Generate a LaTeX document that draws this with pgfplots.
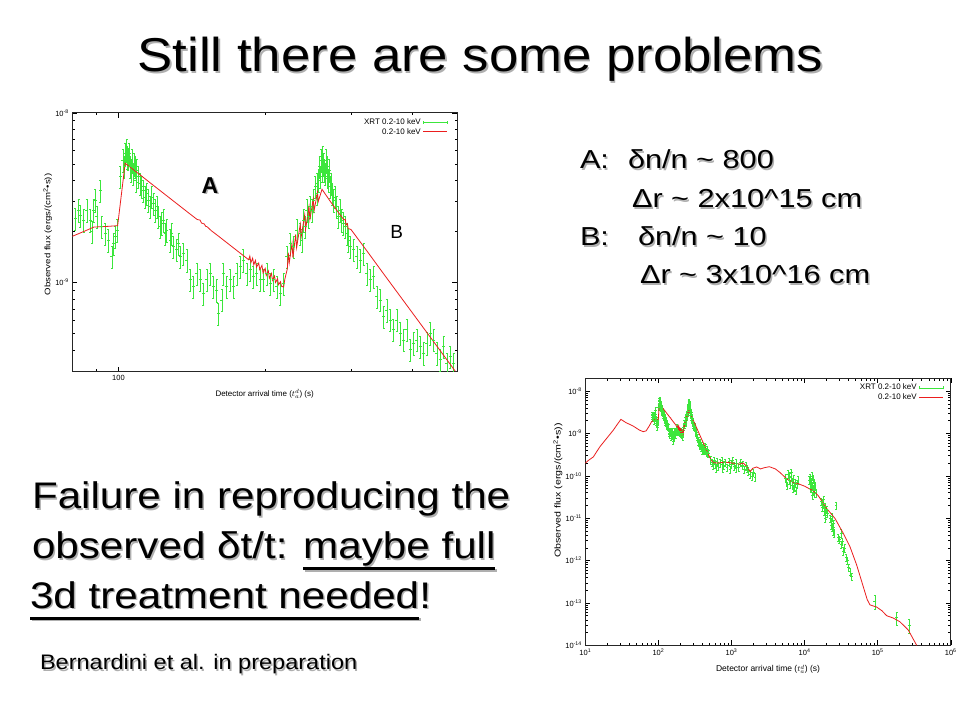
\documentclass[border=0pt]{standalone}
\usepackage{fontspec}
\setmainfont{Liberation Sans}
\newfontfamily\titlefont[FakeStretch=1.11]{Liberation Sans}
\newfontfamily\bodyfont[FakeStretch=1.14]{Liberation Sans}
\newfontfamily\rightfont[FakeStretch=1.18]{Liberation Sans}
\newfontfamily\notefont[FakeStretch=1.12]{Liberation Sans}
\usepackage{pgfplots}
\pgfplotsset{compat=1.18}
\usepackage{pgfplotstable}
\newcommand\ul[1]{\setbox0\hbox{#1}\dp0=0pt\vtop{\box0\kern 8.5pt\hrule height 3pt}}
\definecolor{xgreen}{RGB}{60,230,60}
\definecolor{xred}{RGB}{235,30,30}
\definecolor{shadowgray}{RGB}{175,175,175}

\newcommand\shtext[4]{%
  \node[inner sep=0pt, outer sep=0pt, anchor=#1, text=shadowgray, xshift=1.5pt, yshift=-1.5pt] at (#2) {#3#4};
  \node[inner sep=0pt, outer sep=0pt, anchor=#1] at (#2) {#3#4};}

\pgfplotstableread{
x y
10 2.0e-10
11 2.3e-10
12.9 2.8e-10
14 3.5e-10
15.9 4.9e-10
19.6 7.65e-10
24.2 1.2e-9
27.5 1.65e-9
30.7 2.15e-9
36 1.8e-9
45 1.5e-9
55 1.2e-9
62 1.1e-9
68 1.15e-9
75 1.5e-9
80.4 1.87e-9
}\modelA

\pgfplotstableread{
x y
80.4 1.87e-9
85 2.0e-9
89 2.12e-9
95 2.14e-9
99.6 2.16e-9
103.2 5.04e-9
110 4.37e-9
120 3.59e-9
130 3.0e-9
140 2.54e-9
145 2.35e-9
147 2.33e-9
148 2.24e-9
150 2.21e-9
151 2.14e-9
152 2.13e-9
155 2.02e-9
160 1.885e-9
170 1.645e-9
180 1.447e-9
185 1.361e-9
186 1.43e-9
187 1.31e-9
188.5 1.39e-9
189.5 1.27e-9
191 1.35e-9
192 1.23e-9
194 1.30e-9
195 1.19e-9
197 1.26e-9
198 1.14e-9
200 1.21e-9
201 1.10e-9
203 1.17e-9
204 1.06e-9
206 1.13e-9
207 1.03e-9
209 1.09e-9
210 1.00e-9
212 1.05e-9
213 0.97e-9
215 1.01e-9
216 0.95e-9
218.2 0.94e-9
219.5 1.05e-9
222 1.20e-9
223 1.50e-9
224 1.30e-9
227 1.70e-9
228 1.40e-9
231 1.92e-9
232 1.60e-9
236 2.20e-9
237 1.85e-9
241 2.50e-9
242 2.05e-9
246 2.80e-9
247 2.35e-9
251 3.10e-9
252 2.65e-9
256 3.40e-9
257 3.00e-9
261.6 3.54e-9
265 3.35e-9
272.1 3.0e-9
280 2.68e-9
290 2.34e-9
292 2.35e-9
293 2.18e-9
295 2.22e-9
296 2.08e-9
300 2.05e-9
323.6 1.53e-9
350 1.124e-9
400 6.68e-10
450 4.22e-10
491 3.0e-10
}\modelB

\pgfplotstableread{
x y
491 3.0e-10
530 2.35e-10
560 2.05e-10
650 2.0e-10
800 2.1e-10
953 2.04e-10
1100 1.95e-10
1306 1.9e-10
1452 2.0e-10
1650 1.6e-10
1800 1.25e-10
1950 1.5e-10
2213 1.62e-10
2500 1.45e-10
2800 1.55e-10
3300 1.64e-10
4000 1.45e-10
4600 1.2e-10
5500 9.0e-11
6000 8.0e-11
7000 7.0e-11
8000 6.6e-11
10000 5.7e-11
11250 5.1e-11
13000 4.5e-11
15400 3.4e-11
20000 1.71e-11
26050 9.9e-12
33870 4.4e-12
41800 2.13e-12
51600 7.9e-13
63600 2.42e-13
72000 1.2e-13
78500 9.0e-14
96900 8.0e-14
115000 6.5e-14
132800 5.0e-14
163500 4.4e-14
201600 3.6e-14
262400 2.3e-14
342000 1.0e-14
}\modelC

\pgfplotstableread{
x y
81.5 2.39e-9
82.8 2.68e-9
83.4 2.48e-9
84.8 2.34e-9
86.1 2.68e-9
87.5 2.34e-9
88.2 2.0e-9
88.9 2.68e-9
89.6 3.06e-9
90.3 2.45e-9
91.7 3.5e-9
92.4 2.14e-9
93.9 1.95e-9
95.3 1.78e-9
96.9 1.42e-9
97.7 1.7e-9
98.4 1.87e-9
99.5 2.04e-9
100.8 4.2e-9
102.1 5.27e-9
102.7 4.81e-9
103.2 5.76e-9
104.0 6.03e-9
104.3 5.5e-9
104.8 5.4e-9
105.3 5.76e-9
105.7 4.81e-9
106.1 4.6e-9
106.5 5.27e-9
107.3 4.4e-9
107.7 5.0e-9
108.2 4.81e-9
108.6 4.02e-9
109.0 4.6e-9
109.9 4.2e-9
110.8 3.85e-9
111.6 3.67e-9
112.5 3.5e-9
113.4 3.2e-9
114.3 3.35e-9
115.2 3.06e-9
116.1 2.8e-9
117.0 3.2e-9
118.0 2.93e-9
118.9 2.68e-9
119.9 2.8e-9
120.8 2.45e-9
121.8 2.14e-9
122.7 2.24e-9
123.7 2.34e-9
124.6 1.95e-9
125.6 2.04e-9
127.6 1.78e-9
128.6 1.95e-9
129.6 1.63e-9
131.7 1.56e-9
132.8 1.7e-9
133.8 1.42e-9
135.9 1.49e-9
138.1 1.36e-9
140.3 1.04e-9
142.5 9.47e-10
144.8 1.135e-9
147.1 1.04e-9
149.4 8.65e-10
151.8 1.04e-9
154.2 1.135e-9
156.6 9.47e-10
159.1 9.05e-10
160.4 6.6e-10
163.0 7.91e-10
164.2 1.135e-9
166.8 9.47e-10
169.5 1.04e-9
172.2 9.47e-10
174.9 1.135e-9
177.7 1.24e-9
180.5 1.36e-9
183.4 1.135e-9
186.3 1.19e-9
189.2 1.09e-9
192.2 1.135e-9
195.3 1.04e-9
198.5 1.04e-9
201.6 1.135e-9
204.8 9.9e-10
208.1 1.04e-9
211.4 9.47e-10
214.8 8.65e-10
218.2 9.9e-10
221.6 1.42e-9
225.1 1.7e-9
228.7 1.63e-9
232.3 2.04e-9
236.0 1.95e-9
237.9 1.78e-9
239.8 2.34e-9
241.7 2.14e-9
243.6 2.68e-9
245.5 2.45e-9
247.5 2.8e-9
249.5 2.68e-9
251.4 3.06e-9
253.3 3.67e-9
255.3 3.35e-9
255.8 3.85e-9
257.4 4.02e-9
258.6 4.81e-9
259.4 4.2e-9
260.2 5.27e-9
261.4 4.6e-9
262.2 5.5e-9
263.5 5.0e-9
264.3 4.6e-9
265.6 4.4e-9
266.4 5.27e-9
267.7 4.81e-9
268.5 4.2e-9
269.8 4.02e-9
270.7 4.6e-9
271.9 3.67e-9
273.2 3.85e-9
274.1 3.35e-9
276.3 3.06e-9
278.4 3.2e-9
280.5 2.8e-9
282.7 2.45e-9
285.0 2.68e-9
287.2 2.34e-9
289.5 2.24e-9
291.8 2.14e-9
294.1 1.95e-9
296.4 1.78e-9
298.8 1.63e-9
303.6 1.56e-9
308.4 1.42e-9
313.3 1.36e-9
318.3 1.49e-9
323.4 1.135e-9
328.5 1.04e-9
333.7 1.09e-9
338.9 8.27e-10
344.4 7.91e-10
349.9 6.3e-10
355.4 6.9e-10
361.0 6.03e-10
366.7 5.27e-10
372.5 6.03e-10
378.5 5.04e-10
384.5 4.6e-10
390.6 5.27e-10
396.8 4.02e-10
403.1 4.4e-10
409.5 4.6e-10
416.0 4.2e-10
422.6 3.84e-10
429.3 4.4e-10
436.1 5.04e-10
443.1 4.6e-10
450.1 3.84e-10
457.2 3.51e-10
464.5 4.2e-10
471.9 3.35e-10
479.4 3.67e-10
487.0 3.35e-10
}\earlydata

\pgfplotstableread{
x y
520 2.4e-10
540 2.1e-10
560 1.8e-10
580 2.3e-10
600 1.9e-10
620 1.55e-10
630 2.2e-10
660 1.7e-10
700 2.0e-10
740 2.3e-10
760 1.5e-10
780 1.8e-10
820 2.1e-10
870 1.6e-10
920 2.2e-10
960 1.4e-10
980 1.9e-10
1040 2.3e-10
1100 1.7e-10
1150 1.5e-10
1170 2.0e-10
1250 1.6e-10
1330 2.1e-10
1420 1.8e-10
1500 1.4e-10
1600 1.7e-10
1650 1.5e-10
1700 1.3e-10
1800 1.1e-10
1900 1.0e-10
2000 1.2e-10
2100 0.95e-10
5500 9e-11
5700 7e-11
5800 6e-11
5900 1.1e-10
6100 8e-11
6200 1.0e-10
6300 6.5e-11
6500 9.5e-11
6600 1.2e-10
6700 7.5e-11
6900 6e-11
7000 5e-11
7100 8.5e-11
7300 5.5e-11
7500 7e-11
7700 4.5e-11
7900 6.5e-11
8200 8e-11
11500 8e-11
11800 6.5e-11
12000 9e-11
12100 5e-11
12200 7e-11
12400 5.5e-11
12600 1.0e-10
12800 6e-11
12900 3.5e-11
13000 8.5e-11
13200 4.5e-11
13400 7e-11
13600 5e-11
13800 3.8e-11
14000 6e-11
14300 4e-11
17000 2.5e-11
17500 1.8e-11
18000 2.2e-11
18200 2.8e-11
18500 1.5e-11
19000 1.9e-11
19200 1.0e-11
19500 1.2e-11
20000 1.6e-11
20500 1.3e-11
22500 1.0e-11
23000 7e-12
23500 8.5e-12
23800 1.1e-11
24000 6e-12
24500 5e-12
25000 7.5e-12
25500 4.5e-12
26900 2.0e-11
29000 3.5e-12
30000 3.2e-12
31500 2.4e-12
32000 4.5e-12
33000 2.8e-12
34000 1.7e-12
35500 2.0e-12
37000 1.2e-12
38500 1.0e-12
40000 7e-13
42000 5.5e-13
44000 4.2e-13
}\latedata

\pgfplotstableread{
x y
92000 1.1e-13
182000 4.5e-14
272000 3.0e-14
}\singledata

\begin{document}
\begin{tikzpicture}
\path[fill=white, use as bounding box] (0pt,0pt) rectangle (960pt,720pt);

% ---------- left plot ----------
\begin{axis}[
  scale only axis, anchor=south west,
  xmode=log, ymode=log,
  at={(72.3pt,348.3pt)}, width=384.7pt, height=259pt,
  xmin=80.4, xmax=495, ymin=2.98e-10, ymax=1e-8,
  major tick length=5pt, minor tick length=2.5pt,
  tick style={black, line width=0.4pt},
  axis line style={line width=0.5pt, black!85},
  tick label style={font=\fontsize{7.5}{8}\selectfont},
  label style={font=\fontsize{8}{9}\selectfont},
  xtick={100}, xticklabels={100},
  minor xtick={90,200,300,400},
  ytick={1e-9,1e-8}, yticklabels={10\textsuperscript{-9},10\textsuperscript{-8}},
  minor ytick={4e-10,5e-10,6e-10,7e-10,8e-10,9e-10,2e-9,3e-9,4e-9,5e-9,6e-9,7e-9,8e-9,9e-9},
  xlabel={Detector arrival time ($t_a^d$) (s)},
  ylabel={\scalebox{1.2}[1]{Observed flux (ergs/(cm\textsuperscript{2}•s))}},
  x label style={at={(axis description cs:0.5,-0.085)}, anchor=center},
  y label style={at={(axis description cs:-0.064,0.53)}, anchor=center},
  legend style={at={(0.979,0.99)}, anchor=north east, draw=none, fill=none,
    font=\fontsize{8}{9}\selectfont, row sep=-1.5pt, inner sep=1pt},
  legend cell align=right, legend plot pos=right,
]
\addplot[only marks, mark=-, mark size=1.5pt, color=xgreen, forget plot,
  error bars/.cd, y dir=both, y fixed relative=0.15,
  error bar style={color=xgreen, line width=0.6pt},
  error mark options={color=xgreen, rotate=90, mark size=1pt, line width=0.5pt}]
  table {\earlydata};
\addlegendimage{color=xgreen, line width=0.6pt, legend image code/.code={
    \draw[color=xgreen, line width=0.6pt] (0pt,0pt) -- (24pt,0pt);
    \draw[color=xgreen, line width=0.6pt] (0pt,-1.5pt) -- (0pt,1.5pt) (24pt,-1.5pt) -- (24pt,1.5pt);}}
\addlegendentry{XRT 0.2-10 keV}
\addplot[color=xred, line width=0.8pt, mark=none, forget plot] table {\modelB};
\addlegendimage{color=xred, line width=0.9pt, legend image code/.code={\draw[color=xred, line width=0.9pt] (0pt,0pt) -- (24pt,0pt);}}
\addlegendentry{0.2-10 keV}
\end{axis}

% ---------- right plot ----------
\begin{axis}[
  scale only axis, anchor=south west,
  xmode=log, ymode=log,
  at={(585.3pt,74.7pt)}, width=365.4pt, height=267pt,
  xmin=10, xmax=1e6, ymin=1e-14, ymax=2e-8,
  major tick length=5pt, minor tick length=2.5pt,
  tick style={black, line width=0.4pt},
  axis line style={line width=0.5pt, black!85},
  tick label style={font=\fontsize{7.5}{8}\selectfont},
  label style={font=\fontsize{8.5}{9}\selectfont},
  xtick={10,100,1000,10000,100000,1000000},
  xticklabels={10\textsuperscript{1},10\textsuperscript{2},10\textsuperscript{3},10\textsuperscript{4},10\textsuperscript{5},10\textsuperscript{6}},
  minor xtick={20,30,40,50,60,70,80,90,200,300,400,500,600,700,800,900,2000,3000,4000,5000,6000,7000,8000,9000,20000,30000,40000,50000,60000,70000,80000,90000,200000,300000,400000,500000,600000,700000,800000,900000},
  ytick={1e-14,1e-13,1e-12,1e-11,1e-10,1e-9,1e-8},
  yticklabels={10\textsuperscript{-14},10\textsuperscript{-13},10\textsuperscript{-12},10\textsuperscript{-11},10\textsuperscript{-10},10\textsuperscript{-9},10\textsuperscript{-8}},
  minor ytick={2e-14,3e-14,4e-14,5e-14,6e-14,7e-14,8e-14,9e-14,2e-13,3e-13,4e-13,5e-13,6e-13,7e-13,8e-13,9e-13,2e-12,3e-12,4e-12,5e-12,6e-12,7e-12,8e-12,9e-12,2e-11,3e-11,4e-11,5e-11,6e-11,7e-11,8e-11,9e-11,2e-10,3e-10,4e-10,5e-10,6e-10,7e-10,8e-10,9e-10,2e-9,3e-9,4e-9,5e-9,6e-9,7e-9,8e-9,9e-9},
  xlabel={Detector arrival time ($t_a^d$) (s)},
  ylabel={\scalebox{1.25}[1]{Observed flux (ergs/(cm\textsuperscript{2}•s))}},
  x label style={at={(axis description cs:0.5,-0.09)}, anchor=center},
  y label style={at={(axis description cs:-0.075,0.58)}, anchor=center},
  legend style={at={(0.984,0.99)}, anchor=north east, draw=none, fill=none,
    font=\fontsize{8}{9}\selectfont, row sep=-1.5pt, inner sep=1pt},
  legend cell align=right, legend plot pos=right,
]
\addplot[only marks, mark=-, mark size=1.2pt, color=xgreen, forget plot,
  error bars/.cd, y dir=both, y fixed relative=0.18,
  error bar style={color=xgreen, line width=0.6pt},
  error mark options={color=xgreen, rotate=90, mark size=1pt, line width=0.5pt}]
  table {\earlydata};
\addplot[only marks, mark=-, mark size=1.2pt, color=xgreen, forget plot,
  error bars/.cd, y dir=both, y fixed relative=0.2,
  error bar style={color=xgreen, line width=0.6pt},
  error mark options={color=xgreen, rotate=90, mark size=1pt, line width=0.5pt}]
  table {\latedata};
\addplot[only marks, mark=-, mark size=1.5pt, color=xgreen, forget plot,
  error bars/.cd, y dir=both, y fixed relative=0.35,
  error bar style={color=xgreen, line width=0.6pt},
  error mark options={color=xgreen, rotate=90, mark size=1pt, line width=0.5pt}]
  table {\singledata};
\addlegendimage{color=xgreen, line width=0.6pt, legend image code/.code={
    \draw[color=xgreen, line width=0.6pt] (0pt,0pt) -- (24pt,0pt);
    \draw[color=xgreen, line width=0.6pt] (0pt,-1.5pt) -- (0pt,1.5pt) (24pt,-1.5pt) -- (24pt,1.5pt);}}
\addlegendentry{XRT 0.2-10 keV}
\addplot[color=xred, line width=0.8pt, mark=none, forget plot] table {\modelA};
\addplot[color=xred, line width=0.8pt, mark=none, forget plot] table {\modelB};
\addplot[color=xred, line width=0.8pt, mark=none, forget plot] table {\modelC};
\addlegendimage{color=xred, line width=0.9pt, legend image code/.code={\draw[color=xred, line width=0.9pt] (0pt,0pt) -- (24pt,0pt);}}
\addlegendentry{0.2-10 keV}
\end{axis}

% ---------- slide text ----------
\shtext{base}{480.5pt,648pt}{\titlefont\fontsize{47.5}{50}\selectfont}{Still there are some problems}

\shtext{base west}{580pt,551pt}{\rightfont\fontsize{26}{28}\selectfont}{A:}
\shtext{base west}{628pt,551pt}{\rightfont\fontsize{26}{28}\selectfont}{δn/n \textasciitilde{} 800}
\shtext{base west}{632pt,512pt}{\rightfont\fontsize{26}{28}\selectfont}{Δr \textasciitilde{} 2x10\textasciicircum{}15 cm}
\shtext{base west}{580pt,474pt}{\rightfont\fontsize{26}{28}\selectfont}{B:}
\shtext{base west}{638pt,474pt}{\rightfont\fontsize{26}{28}\selectfont}{δn/n \textasciitilde{} 10}
\shtext{base west}{640pt,436pt}{\rightfont\fontsize{26}{28}\selectfont}{Δr \textasciitilde{} 3x10\textasciicircum{}16 cm}

\shtext{base west}{32pt,211pt}{\bodyfont\fontsize{37}{40}\selectfont}{Failure in reproducing the}
\shtext{base west}{32pt,161pt}{\bodyfont\fontsize{37}{40}\selectfont}{observed δt/t: \ul{maybe full}}
\shtext{base west}{30pt,112pt}{\bodyfont\fontsize{37}{40}\selectfont}{\ul{3d treatment needed}!}

\shtext{base west}{40pt,50.5pt}{\notefont\fontsize{21}{23}\selectfont}{Bernardini et al. in preparation}

\shtext{base}{210pt,526.7pt}{\bfseries\fontsize{23}{25}\selectfont}{A}
\node[inner sep=0pt, anchor=base] at (396.7pt,481.6pt) {\fontsize{19}{21}\selectfont B};
\end{tikzpicture}
\end{document}
